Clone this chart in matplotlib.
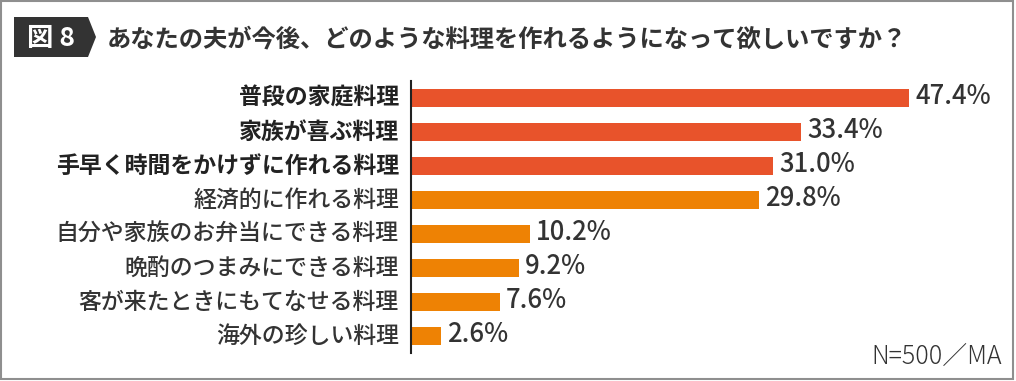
import matplotlib
matplotlib.use("Agg", force=True)

import matplotlib.pyplot as plt
from matplotlib.patches import Polygon, Rectangle

plt.rcParams["font.family"] = ["Noto Sans CJK JP", "DejaVu Sans"]

# data
categories = [
    "普段の家庭料理",
    "家族が喜ぶ料理",
    "手早く時間をかけずに作れる料理",
    "経済的に作れる料理",
    "自分や家族のお弁当にできる料理",
    "晩酌のつまみにできる料理",
    "客が来たときにもてなせる料理",
    "海外の珍しい料理",
]
values = [47.4, 33.4, 31.0, 29.8, 10.2, 9.2, 7.6, 2.6]
value_labels = ["47.4%", "33.4%", "31.0%", "29.8%", "10.2%", "9.2%", "7.6%", "2.6%"]
highlight = [True, True, True, False, False, False, False, False]
fig_no = "図 8"
title = "あなたの夫が今後、どのような料理を作れるようになって欲しいですか？"
note = "N=500／MA"

RED = "#E8532B"
ORANGE = "#EE8204"
DARK = "#333333"

W, H = 1016, 381
fig = plt.figure(figsize=(W / 100, H / 100), dpi=100)


def fx(px):
    return px / W


def fy(py):
    return 1 - py / H


# outer frame
fig.patches.append(Rectangle((fx(1), fy(379)), fx(1013) - fx(1), fy(1) - fy(379),
                             transform=fig.transFigure, fill=False,
                             edgecolor="#8f8f8f", linewidth=1.5))

# figure number banner
banner = [(14, 17), (88, 17), (96, 37), (88, 57), (14, 57)]
fig.patches.append(Polygon([(fx(x), fy(y)) for x, y in banner], closed=True,
                           transform=fig.transFigure, facecolor=DARK, edgecolor="none"))
fig.text(fx(51), fy(38), fig_no, color="white", fontsize=19, fontweight="bold",
         ha="center", va="center")
fig.text(fx(107), fy(39), title, color=DARK, fontsize=17.5, fontweight="bold",
         ha="left", va="center")

# bars; the longest bar is cut at the right edge as in the original layout
xmax = 42.6
ax = fig.add_axes([fx(411), fy(353), fx(909) - fx(411), fy(81) - fy(353)])
pos = list(range(len(categories)))
colors = [RED if h else ORANGE for h in highlight]
ax.barh(pos, values, height=0.53, color=colors)
ax.set_xlim(0, xmax)
ax.set_ylim(len(categories) - 0.5, -0.5)
for side in ["top", "right", "bottom"]:
    ax.spines[side].set_visible(False)
ax.spines["left"].set_color("#222222")
ax.spines["left"].set_linewidth(1.5)
ax.set_xticks([])
ax.set_yticks([])
ax.patch.set_alpha(0)

for i, (cat, v, lab, h) in enumerate(zip(categories, values, value_labels, highlight)):
    ax.annotate(cat, xy=(0, i), xytext=(-12, 0), textcoords="offset pixels",
                ha="right", va="center", fontsize=16.5,
                fontweight="bold" if h else "medium", color="#222222" if h else DARK)
    ax.annotate(lab, xy=(min(v, xmax), i), xytext=(6, 1), textcoords="offset pixels",
                ha="left", va="center", fontsize=18.5, fontweight="medium", color=DARK,
                annotation_clip=False)

fig.text(fx(1002), fy(357), note, color=DARK, fontsize=18, fontweight="light",
         ha="right", va="center")

fig.savefig("out.png", dpi=100)
